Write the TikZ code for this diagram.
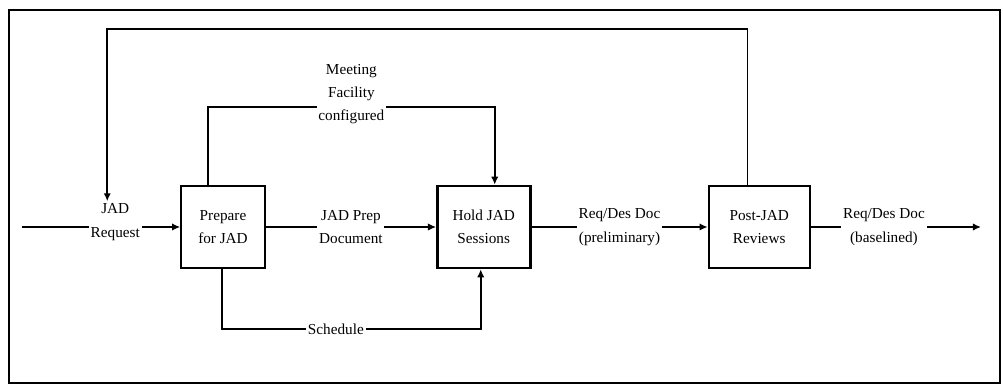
\documentclass[tikz,border=0pt]{standalone}
\usepackage{fontspec}
\setmainfont{Liberation Serif}
\usetikzlibrary{shapes,arrows,arrows.meta,positioning}
\tikzstyle{proc}=[rectangle,draw,line width=1.6pt,align=center,minimum width=2.52cm,minimum height=2.46cm,inner sep=2pt,font=\fontsize{13}{20}\selectfont]
\tikzstyle{lbl}=[fill=white,align=center,inner sep=1.5pt,font=\fontsize{13}{20}\selectfont]
\tikzstyle{arr}=[-{Latex[length=2.4mm,width=2.2mm]},line width=1pt]
\tikzstyle{ctrl}=[-{Latex[length=2.4mm,width=2.2mm]},line width=1.5pt]

\begin{document}
\begin{tikzpicture}[node distance=5.1cm]
\useasboundingbox (0,0) rectangle (30.09,11.55);
\draw[line width=1.2pt] (0.27,0.06) rectangle (30.0,11.25);
\node[proc] (prep) at (6.69,4.74) {Prepare\\for JAD};
\node[proc, right=of prep, minimum width=2.79cm, line width=2.2pt] (hold) {Hold JAD\\Sessions};
\node[proc, right=5.28cm of hold, minimum width=3.03cm, line width=2pt] (post) {Post-JAD\\Reviews};
\coordinate (in) at (0.66,4.74);
\coordinate[right=of post] (out);
\draw[arr] (in) -- node[lbl, pos=0.59, yshift=0.15cm] (req) {JAD\\Request} (prep.west);
\draw[arr] (prep) -- node[lbl] (prepdoc) {JAD Prep\\Document} (hold);
\draw[arr] (hold) -- node[lbl] (prelim) {Req/Des Doc\\(preliminary)} (post);
\draw[arr] (post) -- node[lbl, pos=0.43] (base) {Req/Des Doc\\(baselined)} (out);
% feedback and control lines
\draw[ctrl] ([xshift=-0.35cm]post.north) -- ++(0,4.68) -| ([xshift=-0.24cm]req.north);
\draw[ctrl] ([xshift=-0.45cm]prep.north) -- ++(0,2.34) -| node[lbl, pos=0.25, yshift=0.39cm] (mfc) {Meeting\\Facility\\configured} ([xshift=0.33cm]hold.north);
\draw[ctrl] ([xshift=-0.03cm]prep.south) -- ++(0,-1.8) -| node[lbl, pos=0.22] (sch) {Schedule} ([xshift=-0.09cm]hold.south);
\end{tikzpicture}
\end{document}
